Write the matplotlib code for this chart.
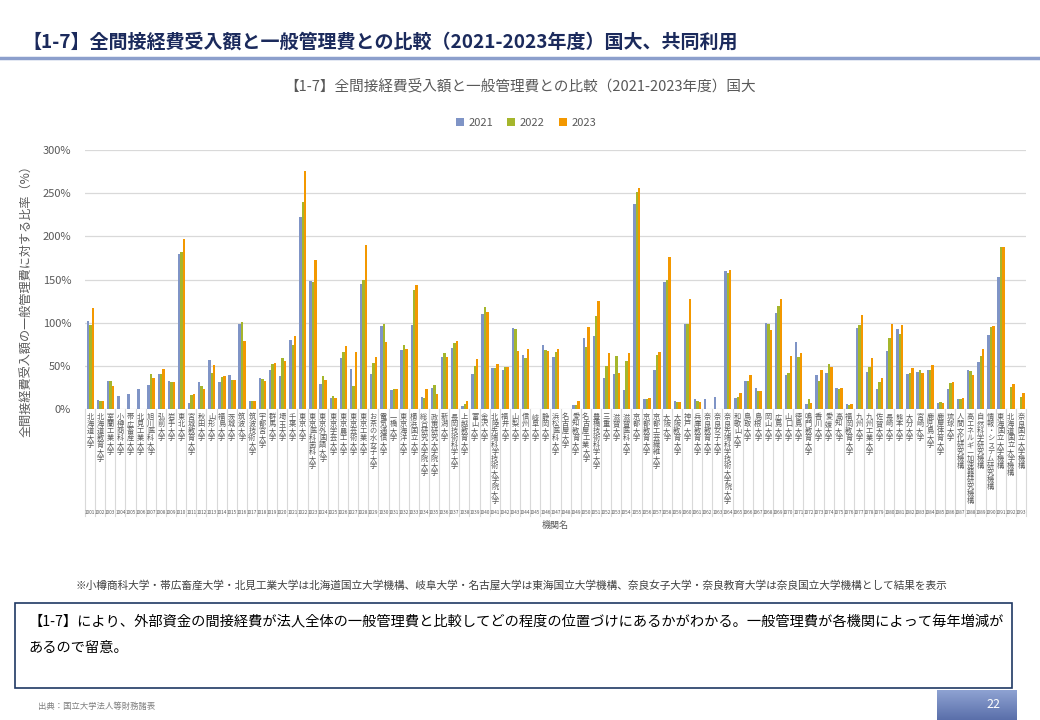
import numpy as np
import matplotlib
matplotlib.use("Agg")
import matplotlib.pyplot as plt
from matplotlib.patches import Rectangle
from matplotlib.lines import Line2D
from matplotlib.colors import LinearSegmentedColormap

plt.rcParams['font.family'] = ['Noto Sans CJK JP', 'DejaVu Sans']

# --- data --------------------------------------------------------------
CODES = [str(c) for c in range(1001, 1094)]

NAMES = [
    "北海道大学", "北海道教育大学", "室蘭工業大学", "小樽商科大学", "帯広畜産大学",
    "北見工業大学", "旭川医科大学", "弘前大学", "岩手大学", "東北大学",
    "宮城教育大学", "秋田大学", "山形大学", "福島大学", "茨城大学",
    "筑波大学", "筑波技術大学", "宇都宮大学", "群馬大学", "埼玉大学",
    "千葉大学", "東京大学", "東京医科歯科大学", "東京外国語大学", "東京学芸大学",
    "東京農工大学", "東京芸術大学", "東京工業大学", "お茶の水女子大学", "電気通信大学",
    "一橋大学", "東京海洋大学", "横浜国立大学", "総合研究大学院大学", "政策研究大学院大学",
    "新潟大学", "長岡技術科学大学", "上越教育大学", "富山大学", "金沢大学",
    "北陸先端科学技術大学院大学", "福井大学", "山梨大学", "信州大学", "岐阜大学",
    "静岡大学", "浜松医科大学", "名古屋大学", "愛知教育大学", "名古屋工業大学",
    "豊橋技術科学大学", "三重大学", "滋賀大学", "滋賀医科大学", "京都大学",
    "京都教育大学", "京都工芸繊維大学", "大阪大学", "大阪教育大学", "神戸大学",
    "兵庫教育大学", "奈良教育大学", "奈良女子大学", "奈良先端科学技術大学院大学", "和歌山大学",
    "鳥取大学", "島根大学", "岡山大学", "広島大学", "山口大学",
    "徳島大学", "鳴門教育大学", "香川大学", "愛媛大学", "高知大学",
    "福岡教育大学", "九州大学", "九州工業大学", "佐賀大学", "長崎大学",
    "熊本大学", "大分大学", "宮崎大学", "鹿児島大学", "鹿屋体育大学",
    "琉球大学", "人間文化研究機構", "高エネルギー加速器研究機構", "自然科学研究機構",
    "情報・システム研究機構",
    "東海国立大学機構", "北海道国立大学機構", "奈良国立大学機構",
]

V2021 = [102, 10, 33, 15, 17, 23, 28, 40, 32, 180,
         7, 31, 57, 31, 39, 98, 9, 36, 45, 38,
         80, 222, 148, 29, 13, 59, 46, 145, 40, 96,
         22, 68, 97, 14, 24, 60, 71, 3.5, 40, 110,
         47, 45, 94, 62, 0, 74, 60, 0, 4.6, 82,
         84, 36, 40, 22, 237, 12, 45, 147, 9, 98,
         12, 12, 14, 160, 13, 32, 24, 100, 111, 39,
         78, 6, 39, 42, 24, 6, 94, 43, 23, 67,
         93, 40, 43, 45, 7, 23, 12, 45, 54, 86,
         153, 0, 0]
V2022 = [97, 9, 33, 0, 0, 0, 40, 40, 31, 182,
         16, 27, 42, 37, 34, 101, 9, 35, 52, 59,
         74, 240, 147, 38, 15, 66, 27, 149, 53, 98,
         23, 74, 138, 13, 28, 65, 76, 6, 50, 118,
         47, 49, 93, 59, 0, 68, 66, 0, 4.6, 72,
         108, 50, 61, 56, 251, 12, 62, 149, 8, 98,
         9, 0, 0, 157, 14, 32, 21, 98, 119, 42,
         60, 12, 32, 52, 23, 5, 97, 49, 31, 82,
         87, 42, 45, 45, 8, 30, 12, 44, 61, 95,
         188, 26, 14]
V2023 = [117, 9, 27, 0, 0, 0, 36, 46, 31, 197,
         17, 23, 51, 38, 34, 79, 9, 32, 53, 56,
         84, 276, 173, 34, 13, 73, 66, 190, 60, 78,
         23, 70, 144, 23, 17, 60, 79, 9, 58, 112,
         52, 49, 67, 70, 0, 67, 70, 0, 9, 95,
         125, 65, 42, 65, 256, 13, 66, 176, 8, 127,
         8, 0, 0, 161, 19, 39, 21, 92, 127, 61,
         65, 7, 45, 49, 24, 6, 109, 59, 36, 98,
         97, 48, 42, 51, 7, 31, 13, 39, 70, 96,
         188, 29, 19]

YEARS = ["2021", "2022", "2023"]
COLOURS = ["#7F94C6", "#A5B62C", "#F39800"]
GREY = "#595959"

W, H = 1040, 720


def fx(px):
    return px / W


def fy(py):
    return 1 - py / H


fig = plt.figure(figsize=(10.4, 7.2), dpi=100)

# --- page header ------------------------------------------------------
fig.text(fx(22), fy(42), "【1-7】全間接経費受入額と一般管理費との比較（2021-2023年度）国大、共同利用",
         fontsize=13.7, fontweight="bold", color="#1B2A5C", va="center")
fig.add_artist(Line2D([0, 1], [fy(58), fy(58)], transform=fig.transFigure,
                      color="#8C9FCC", lw=2.5))

# --- chart ------------------------------------------------------------
fig.text(fx(520), fy(86), "【1-7】全間接経費受入額と一般管理費との比較（2021-2023年度）国大",
         fontsize=10.5, color=GREY, ha="center", va="center")

ax = fig.add_axes([fx(85), fy(409), fx(1026) - fx(85), fy(150) - fy(409)])
x = np.arange(len(NAMES))
bw = 0.24
handles = []
for k, (vals, col, yr) in enumerate(zip([V2021, V2022, V2023], COLOURS, YEARS)):
    b = ax.bar(x + (k - 1) * bw + 0.03, vals, width=bw, color=col, label=yr, zorder=3)
    handles.append(b)

ax.set_xlim(-0.5, len(NAMES) - 0.5)
ax.set_ylim(0, 300)
ax.set_yticks(np.arange(0, 301, 50))
ax.set_yticklabels([f"{v}%" for v in range(0, 301, 50)], fontsize=8, color=GREY)
ax.set_xticks([])
ax.tick_params(axis="y", length=0, pad=10)
for s in ax.spines.values():
    s.set_visible(False)
ax.grid(axis="y", color="#D9D9D9", lw=0.9, zorder=0)

# two-level category axis: vertical names, then codes
tr = ax.get_xaxis_transform()
h_ax = 409 - 150
for i, (name, code) in enumerate(zip(NAMES, CODES)):
    ax.text(i, -(413 - 409) / h_ax, "\n".join(name), transform=tr, ha="center", va="top",
            fontsize=5.2, linespacing=0.84, color=GREY, clip_on=False)
    ax.text(i, -(512 - 409) / h_ax, code, transform=tr, ha="center", va="center",
            fontsize=3.4, color=GREY, clip_on=False)
for b in np.arange(-0.5, len(NAMES)):
    ax.plot([b, b], [0, -(516 - 409) / h_ax], transform=tr, color="#D9D9D9",
            lw=0.8, clip_on=False)

fig.text(fx(555), fy(525), "機関名", fontsize=6.5, color=GREY, ha="center", va="center")
fig.text(fx(27), fy(298), "全間接経費受入額の一般管理費に対する比率（%）", rotation=90,
         fontsize=8.7, color=GREY, ha="center", va="center")

fig.legend(handles=handles, labels=YEARS, loc="center", bbox_to_anchor=(fx(526), fy(123)),
           ncol=3, frameon=False, fontsize=8, handlelength=0.7, handleheight=0.7,
           handletextpad=0.4, columnspacing=1.3, labelcolor=GREY)

# --- notes and comment box -------------------------------------------
fig.text(fx(511), fy(585),
         "※小樽商科大学・帯広畜産大学・北見工業大学は北海道国立大学機構、岐阜大学・名古屋大学は東海国立大学機構、"
         "奈良女子大学・奈良教育大学は奈良国立大学機構として結果を表示",
         fontsize=7.7, color="#404040", ha="center", va="center")

fig.add_artist(Rectangle((fx(15), fy(688)), fx(1012) - fx(15), fy(603) - fy(688),
                         transform=fig.transFigure, fill=False, edgecolor="#1F3864", lw=1.2))
fig.text(fx(28), fy(621),
         "【1-7】により、外部資金の間接経費が法人全体の一般管理費と比較してどの程度の位置づけにあるかがわかる。"
         "一般管理費が各機関によって毎年増減が",
         fontsize=10.25, color="black", va="center")
fig.text(fx(28), fy(648), "あるので留意。", fontsize=10.25, color="black", va="center")

fig.text(fx(38), fy(706), "出典：国立大学法人等財務諸表", fontsize=6, color="#7F7F7F", va="center")

# page number tab
pg = fig.add_axes([fx(937), 0, fx(1017) - fx(937), 30 / H])
grad = np.linspace(0, 1, 50).reshape(-1, 1)
cmap = LinearSegmentedColormap.from_list("pg", ["#8EA2D2", "#5A6FAA"])
pg.imshow(grad, cmap=cmap, aspect="auto", extent=[0, 1, 0, 1])
pg.axis("off")
pg.text(0.7, 0.5, "22", color="white", fontsize=9, ha="center", va="center")

fig.savefig("out.png", dpi=100)
plt.close(fig)
